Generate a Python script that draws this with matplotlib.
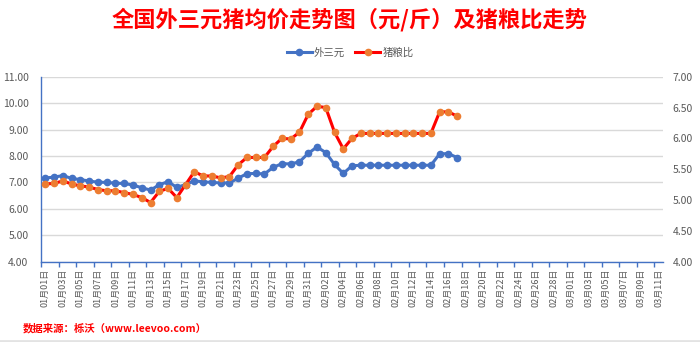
import matplotlib

matplotlib.use("Agg")
import matplotlib.pyplot as plt
import pandas as pd
from matplotlib.lines import Line2D
from matplotlib.ticker import FormatStrFormatter, MultipleLocator

plt.rcParams["font.family"] = ["Noto Sans CJK SC", "DejaVu Sans"]

# Category axis: every day from Jan 1 to Mar 11 (2024, leap year)
dates = pd.date_range("2024-01-01", "2024-03-11", freq="D")
date_labels = [d.strftime("%m月%d日") for d in dates]

# 外三元 average price (元/斤), Jan 1 - Feb 17
price_wsy = [
    7.17, 7.20, 7.26, 7.15, 7.11, 7.05, 7.01, 7.00, 6.97, 6.96,
    6.90, 6.80, 6.71, 6.91, 7.03, 6.81, 6.92, 7.06, 7.02, 7.00,
    6.98, 6.98, 7.16, 7.33, 7.34, 7.32, 7.57, 7.71, 7.70, 7.78,
    8.10, 8.34, 8.13, 7.68, 7.34, 7.63, 7.65, 7.65, 7.65, 7.65,
    7.65, 7.65, 7.65, 7.65, 7.65, 8.08, 8.09, 7.94,
]

# pig-to-grain price ratio, same days (right axis)
pig_grain_ratio = [
    5.26, 5.27, 5.31, 5.26, 5.23, 5.21, 5.17, 5.15, 5.15, 5.12,
    5.09, 5.04, 4.96, 5.14, 5.19, 5.04, 5.25, 5.46, 5.39, 5.39,
    5.36, 5.38, 5.57, 5.69, 5.69, 5.69, 5.87, 6.00, 5.99, 6.10,
    6.39, 6.52, 6.50, 6.10, 5.83, 6.00, 6.08, 6.08, 6.08, 6.08,
    6.08, 6.08, 6.08, 6.08, 6.08, 6.43, 6.43, 6.36,
]

TITLE = "全国外三元猪均价走势图（元/斤）及猪粮比走势"
SOURCE = "数据来源：栎沃（www.leevoo.com）"

C_BLUE = "#4472C4"
C_RED = "#FF0000"
C_ORANGE = "#ED7D31"
C_TEXT = "#595959"
C_GRID = "#D9D9D9"


def main() -> None:
    fig = plt.figure(figsize=(7.0, 3.42), dpi=100)
    ax = fig.add_axes([0.0586, 0.2348, 0.8886, 0.5409])
    ax2 = ax.twinx()

    n = len(date_labels)
    ax.plot(range(len(price_wsy)), price_wsy, "-o", color=C_BLUE,
            lw=2.2, ms=4.5, label="外三元", zorder=3)
    ax2.plot(range(len(pig_grain_ratio)), pig_grain_ratio, "-o",
             color=C_RED, mfc=C_ORANGE, mec=C_ORANGE, lw=2.2, ms=4.5,
             label="猪粮比", zorder=3)

    # left axis: price
    ax.set_xlim(-0.5, n - 0.5)
    ax.set_ylim(4, 11)
    ax.yaxis.set_major_locator(MultipleLocator(1))
    ax.yaxis.set_major_formatter(FormatStrFormatter("%.2f"))
    ax.yaxis.grid(True, color=C_GRID, lw=1.0)
    ax.set_axisbelow(True)
    ax.tick_params(axis="y", length=0, pad=9, labelsize=7.5,
                   labelcolor=C_TEXT)

    # right axis: ratio
    ax2.set_ylim(4, 7)
    ax2.yaxis.set_major_locator(MultipleLocator(0.5))
    ax2.yaxis.set_major_formatter(FormatStrFormatter("%.2f"))
    ax2.tick_params(axis="y", length=0, pad=7, labelsize=7.5,
                    labelcolor=C_TEXT)

    # labels every other day, tick marks on category boundaries
    ax.set_xticks(range(0, n, 2))
    ax.set_xticklabels(date_labels[::2], rotation=90)
    ax.set_xticks([i - 0.5 for i in range(0, n, 2)], minor=True)
    ax.tick_params(axis="x", which="major", length=0, pad=5,
                   labelsize=6.5, labelcolor=C_TEXT)
    ax.tick_params(axis="x", which="minor", length=3.5, width=1,
                   color=C_BLUE, direction="out")

    for side in ("top", "right"):
        ax.spines[side].set_visible(False)
    for side in ("left", "bottom"):
        ax.spines[side].set_color(C_BLUE)
        ax.spines[side].set_linewidth(1.0)
    for sp in ax2.spines.values():
        sp.set_visible(False)

    h1, l1 = ax.get_legend_handles_labels()
    h2, l2 = ax2.get_legend_handles_labels()
    fig.legend(h1 + h2, l1 + l2, loc="center", bbox_to_anchor=(0.5, 0.845),
               ncol=2, frameon=False, fontsize=7.5, labelcolor=C_TEXT,
               handlelength=2.4, handletextpad=0.2, columnspacing=1.0,
               numpoints=1)

    fig.text(0.5, 1 - 20 / 342, TITLE, ha="center", va="center",
             fontsize=16, fontweight="bold", color=C_RED)
    fig.text(23 / 700, 1 - 328 / 342, SOURCE, ha="left", va="center",
             fontsize=7.5, fontweight="bold", color=C_RED)
    fig.add_artist(Line2D([0, 1], [0.004, 0.004], transform=fig.transFigure,
                          color="#E3E3E3", lw=2))

    fig.savefig("out.png", dpi=100)


if __name__ == "__main__":
    main()
